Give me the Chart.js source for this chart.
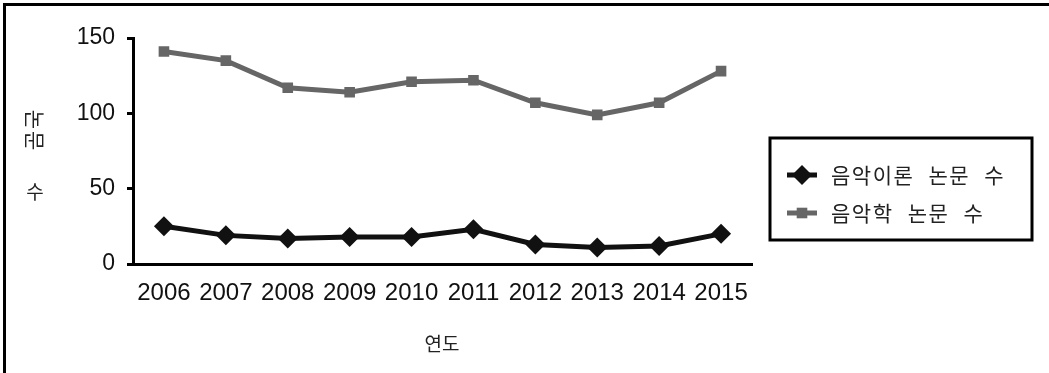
<!DOCTYPE html>
<html lang="ko">
<head>
<meta charset="utf-8">
<script src="https://cdn.jsdelivr.net/npm/chart.js@4/dist/chart.umd.min.js"></script>
<style>
  html, body { margin: 0; padding: 0; background: #fff; }
  #wrap { width: 1049px; height: 373px; }
</style>
</head>
<body>
<div id="wrap"><canvas id="c" width="1049" height="373"></canvas></div>
<script>
// 연도별 논문 수
const years = ['2006', '2007', '2008', '2009', '2010', '2011', '2012', '2013', '2014', '2015'];
const theoryPapers = [25, 19, 17, 18, 18, 23, 13, 11, 12, 20];
const musicologyPapers = [141, 135, 117, 114, 121, 122, 107, 99, 107, 128];
const yTicks = [0, 50, 100, 150];
const seriesNames = ['음악이론 논문 수', '음악학 논문 수'];
const xTitle = '연도';
const yTitleParts = ['논문', '수'];

const FONT = '"Liberation Sans", "Noto Sans CJK KR", sans-serif';
const KFONT = '"Noto Sans CJK KR", "Liberation Sans", sans-serif';

// frame, axis titles and legend box drawn on top of the chart
const decor = {
  id: 'decor',
  afterDraw(chart) {
    const ctx = chart.ctx;
    ctx.save();
    // outer frame (top and left edges)
    ctx.fillStyle = '#000';
    ctx.fillRect(3, 3, chart.width - 3, 3);
    ctx.fillRect(3, 3, 3, chart.height - 3);

    // y-axis title: "논문" turned sideways, "수" upright
    ctx.fillStyle = '#222';
    ctx.textAlign = 'center';
    ctx.textBaseline = 'middle';
    ctx.save();
    ctx.font = '21px ' + KFONT;
    ctx.letterSpacing = '2px';
    ctx.translate(35, 131);
    ctx.rotate(Math.PI / 2);
    ctx.fillText(yTitleParts[0], 0, 0);
    ctx.restore();
    ctx.font = '19px ' + KFONT;
    ctx.fillText(yTitleParts[1], 35, 192);

    // x-axis title
    ctx.font = '19px ' + KFONT;
    ctx.fillText(xTitle, 442, 344);

    // legend
    const lx = 770, ly = 138, lw = 262, lh = 102;
    ctx.lineWidth = 3;
    ctx.strokeStyle = '#000';
    ctx.strokeRect(lx, ly, lw, lh);
    const rows = [175, 213];
    chart.data.datasets.forEach((ds, i) => {
      const y = rows[i];
      ctx.strokeStyle = ds.borderColor;
      ctx.lineWidth = ds.borderWidth;
      ctx.beginPath();
      ctx.moveTo(787, y);
      ctx.lineTo(817, y);
      ctx.stroke();
      ctx.fillStyle = ds.pointBackgroundColor;
      Chart.helpers.drawPoint(ctx, {
        pointStyle: ds.pointStyle,
        radius: ds.pointRadius,
        rotation: 0,
        borderWidth: 0
      }, 802, y);
      ctx.fillStyle = '#222';
      ctx.font = '21px ' + KFONT;
      ctx.letterSpacing = '1.5px';
      ctx.wordSpacing = '8px';
      ctx.textAlign = 'left';
      ctx.fillText(ds.label, 831, y);
      ctx.letterSpacing = '0px';
      ctx.wordSpacing = '0px';
    });
    ctx.restore();
  }
};

new Chart(document.getElementById('c'), {
  type: 'line',
  data: {
    labels: years,
    datasets: [
      {
        label: seriesNames[0],
        data: theoryPapers,
        borderColor: '#111111',
        backgroundColor: '#111111',
        pointBackgroundColor: '#111111',
        pointBorderWidth: 0,
        borderWidth: 5,
        pointStyle: 'rectRot',
        pointRadius: 10,
        tension: 0
      },
      {
        label: seriesNames[1],
        data: musicologyPapers,
        borderColor: '#666666',
        backgroundColor: '#666666',
        pointBackgroundColor: '#666666',
        pointBorderWidth: 0,
        borderWidth: 5,
        pointStyle: 'rect',
        pointRadius: 7.5,
        tension: 0
      }
    ]
  },
  options: {
    responsive: false,
    animation: false,
    devicePixelRatio: 1,
    layout: { padding: { left: 0, right: 297, top: 38, bottom: 0 } },
    plugins: { legend: { display: false }, tooltip: { enabled: false } },
    scales: {
      x: {
        offset: true,
        grid: { display: false, drawTicks: false },
        border: { display: true, color: '#000', width: 3 },
        ticks: {
          autoSkip: false, maxRotation: 0, minRotation: 0,
          color: '#111', padding: 15,
          font: { family: FONT, size: 24 }
        },
        afterFit(scale) { scale.height = 109; }
      },
      y: {
        min: 0, max: 150,
        afterBuildTicks(scale) { scale.ticks = yTicks.map(v => ({ value: v })); },
        grid: { drawOnChartArea: false, drawTicks: true, tickLength: 6, color: '#000', lineWidth: 3 },
        border: { display: true, color: '#000', width: 3 },
        ticks: {
          color: '#111', padding: 12,
          font: { family: FONT, size: 23 }
        },
        afterFit(scale) { scale.width = 133; }
      }
    }
  },
  plugins: [decor]
});
</script>
</body>
</html>
